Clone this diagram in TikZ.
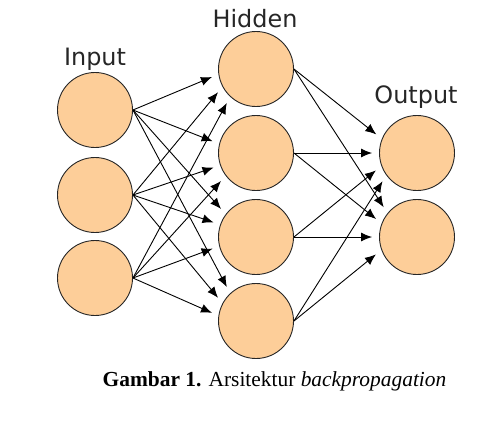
\documentclass[tikz,border=0pt]{standalone}
\usepackage{fontspec}
\newfontfamily\labelfont{DejaVu Sans}
\setmainfont{Liberation Serif}
\usetikzlibrary{arrows.meta}
\definecolor{neuronFill}{RGB}{253,206,153}

\begin{document}
\begin{tikzpicture}
[x=1bp,y=-1bp,%
  nodeDecorate/.style={shape=circle,minimum size=75bp,inner sep=0pt,draw=black!85,fill=neuronFill,line width=0.9bp},%
  lineDecorate/.style={-{Latex[length=11bp,width=9bp]},line width=0.9bp,shorten >=7bp},%
  textDecorate/.style={anchor=base,font=\labelfont\fontsize{24}{26}\selectfont,text=black!85}]
\useasboundingbox (0,0) rectangle (502,421);
%% nodes or vertices
\foreach \nodename/\x/\y in {
  i1/95/110, i2/95/195, i3/95/278,
  h1/256/69, h2/256/153, h3/256/237, h4/256/321,
  o1/417/153, o2/417/237}
{
  \node (\nodename) at (\x,\y) [nodeDecorate] {};
}
%% labels
\node (inputLabel) at (95,65) [textDecorate] {Input};
\node (hiddenLabel) at (255,27) [textDecorate] {Hidden};
\node (outputLabel) at (416,103) [textDecorate] {Output};
\node (caption) at (274.5,386) [anchor=base,font=\fontsize{21.5}{24}\selectfont]
  {\textbf{Gambar 1.} Arsitektur \textit{backpropagation}};
%% edges or lines
\path
\foreach \startnode/\endnode/\ang in {
  i1/h1/188, i2/h1/208, i3/h1/227,
  i1/h2/166, i2/h2/199, i3/h2/217,
  i1/h3/143, i2/h3/161, i3/h3/194,
  i1/h4/133, i2/h4/152, i3/h4/172,
  h1/o1/158, h2/o1/180, h3/o1/200, h4/o1/216,
  h1/o2/141, h2/o2/159, h3/o2/180, h4/o2/200}
{
  (\startnode.east) edge[lineDecorate] (\endnode.\ang)
};
\end{tikzpicture}
\end{document}
